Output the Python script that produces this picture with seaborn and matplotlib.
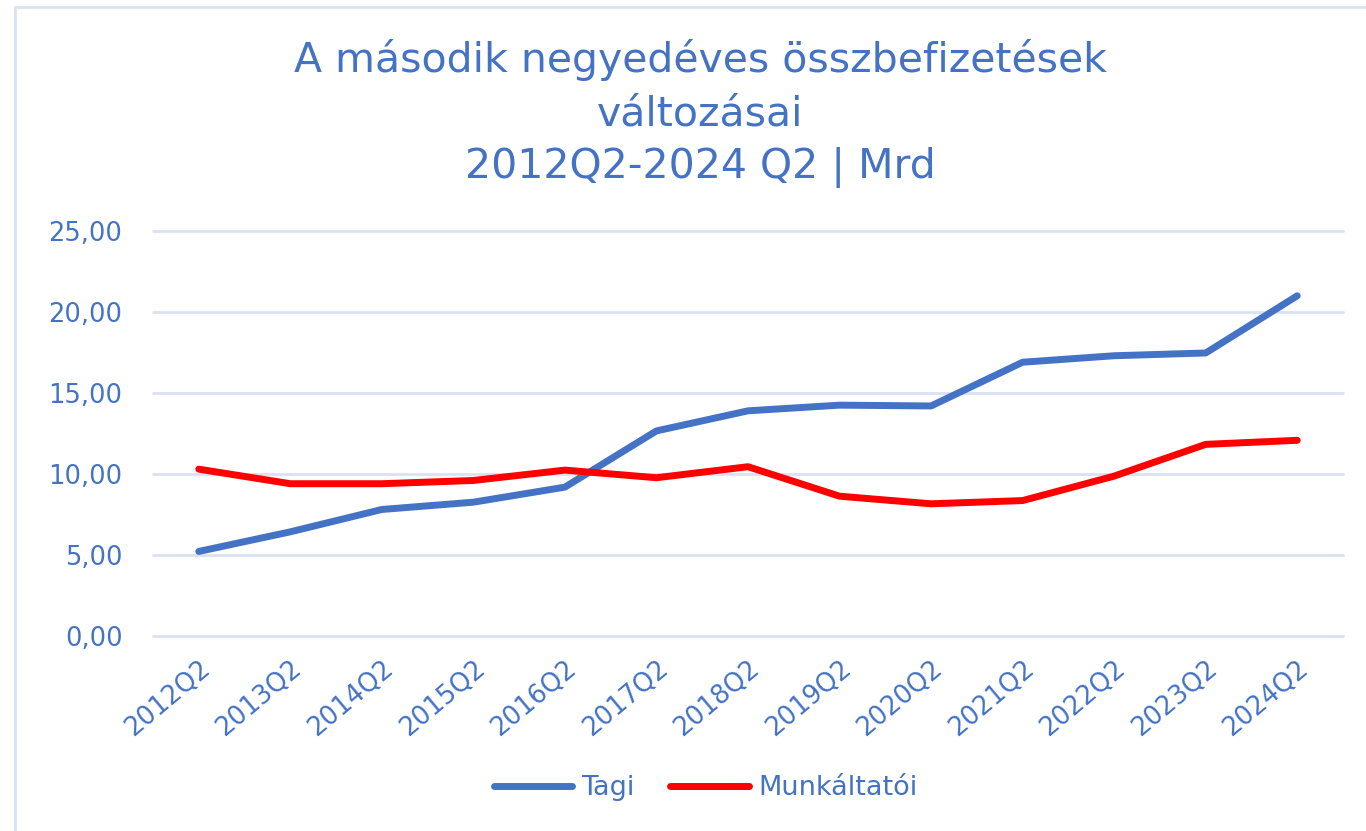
"""Második negyedéves összbefizetések (Tagi / Munkáltatói) vonaldiagram."""

import matplotlib.pyplot as plt
import pandas as pd
import seaborn as sns
from matplotlib.lines import Line2D


QUARTERS = [
    "2012Q2", "2013Q2", "2014Q2", "2015Q2", "2016Q2", "2017Q2", "2018Q2",
    "2019Q2", "2020Q2", "2021Q2", "2022Q2", "2023Q2", "2024Q2",
]
TAGI = [5.22, 6.43, 7.81, 8.26, 9.19, 12.66, 13.90, 14.25, 14.20, 16.90, 17.30, 17.47, 21.00]
MUNKALTATOI = [10.30, 9.40, 9.40, 9.60, 10.24, 9.77, 10.45, 8.63, 8.16, 8.36, 9.87, 11.83, 12.08]
SERIES_NAMES = ["Tagi", "Munkáltatói"]
Y_TICKS = [0, 5, 10, 15, 20, 25]
TITLE_LINES = ["A második negyedéves összbefizetések", "változásai", "2012Q2-2024 Q2 | Mrd"]

BLUE = "#4472C4"
RED = "#FF0000"
GRID = "#D9E1F2"
FONT = ["DejaVu Sans"]


def build_frame() -> pd.DataFrame:
    """Hosszú formátumú táblát készít a seaborn számára."""
    frames = []
    for name, values in zip(SERIES_NAMES, [TAGI, MUNKALTATOI]):
        frames.append(pd.DataFrame({"idx": range(len(QUARTERS)), "value": values, "series": name}))
    return pd.concat(frames, ignore_index=True)


def main() -> None:
    sns.set_style("white")
    plt.rcParams["font.family"] = FONT

    df = build_frame()

    fig = plt.figure(figsize=(13.66, 8.31), dpi=100)
    ax = fig.add_axes([153 / 1366, 1 - 636 / 831, (1343 - 153) / 1366, (636 - 231) / 831])

    sns.lineplot(
        data=df, x="idx", y="value", hue="series",
        palette={"Tagi": BLUE, "Munkáltatói": RED},
        linewidth=5, legend=False, ax=ax, solid_capstyle="round",
    )

    ax.set_xlim(-0.5, len(QUARTERS) - 0.5)
    ax.set_ylim(0, 25)
    ax.set_yticks(Y_TICKS)
    ax.set_yticklabels([f"{v:.2f}".replace(".", ",") for v in Y_TICKS], color=BLUE, fontsize=18.5)
    ax.set_xticks(range(len(QUARTERS)))
    ax.set_xticklabels(QUARTERS, rotation=40, ha="right", rotation_mode="anchor",
                       color=BLUE, fontsize=18.5)
    ax.tick_params(axis="both", length=0)
    ax.tick_params(axis="y", pad=22)
    ax.tick_params(axis="x", pad=14)
    ax.set_xlabel("")
    ax.set_ylabel("")
    ax.grid(axis="y", color=GRID, linewidth=2)
    ax.set_axisbelow(True)
    for line in ax.get_ygridlines():
        line.set_clip_on(False)
    for spine in ax.spines.values():
        spine.set_visible(False)

    for text, y_px in zip(TITLE_LINES, [60, 115, 167]):
        fig.text(0.5125, 1 - y_px / 831, text, ha="center", va="center", color=BLUE, fontsize=29.5)

    handles = [
        Line2D([], [], color=BLUE, linewidth=5, solid_capstyle="round"),
        Line2D([], [], color=RED, linewidth=5, solid_capstyle="round"),
    ]
    fig.legend(handles, SERIES_NAMES, loc="center", bbox_to_anchor=(0.5165, 1 - 788 / 831),
               ncol=2, frameon=False, fontsize=19.5, labelcolor=BLUE,
               handlelength=2.9, handletextpad=0.35, columnspacing=1.3)

    # a diagramkeret bal és felső széle
    fig.add_artist(Line2D([15 / 1366, 15 / 1366], [0, 1 - 7 / 831],
                          transform=fig.transFigure, color=GRID, linewidth=2))
    fig.add_artist(Line2D([15 / 1366, 1], [1 - 7 / 831, 1 - 7 / 831],
                          transform=fig.transFigure, color=GRID, linewidth=2))

    fig.savefig("out.png", dpi=100)
    plt.close(fig)


if __name__ == "__main__":
    main()
